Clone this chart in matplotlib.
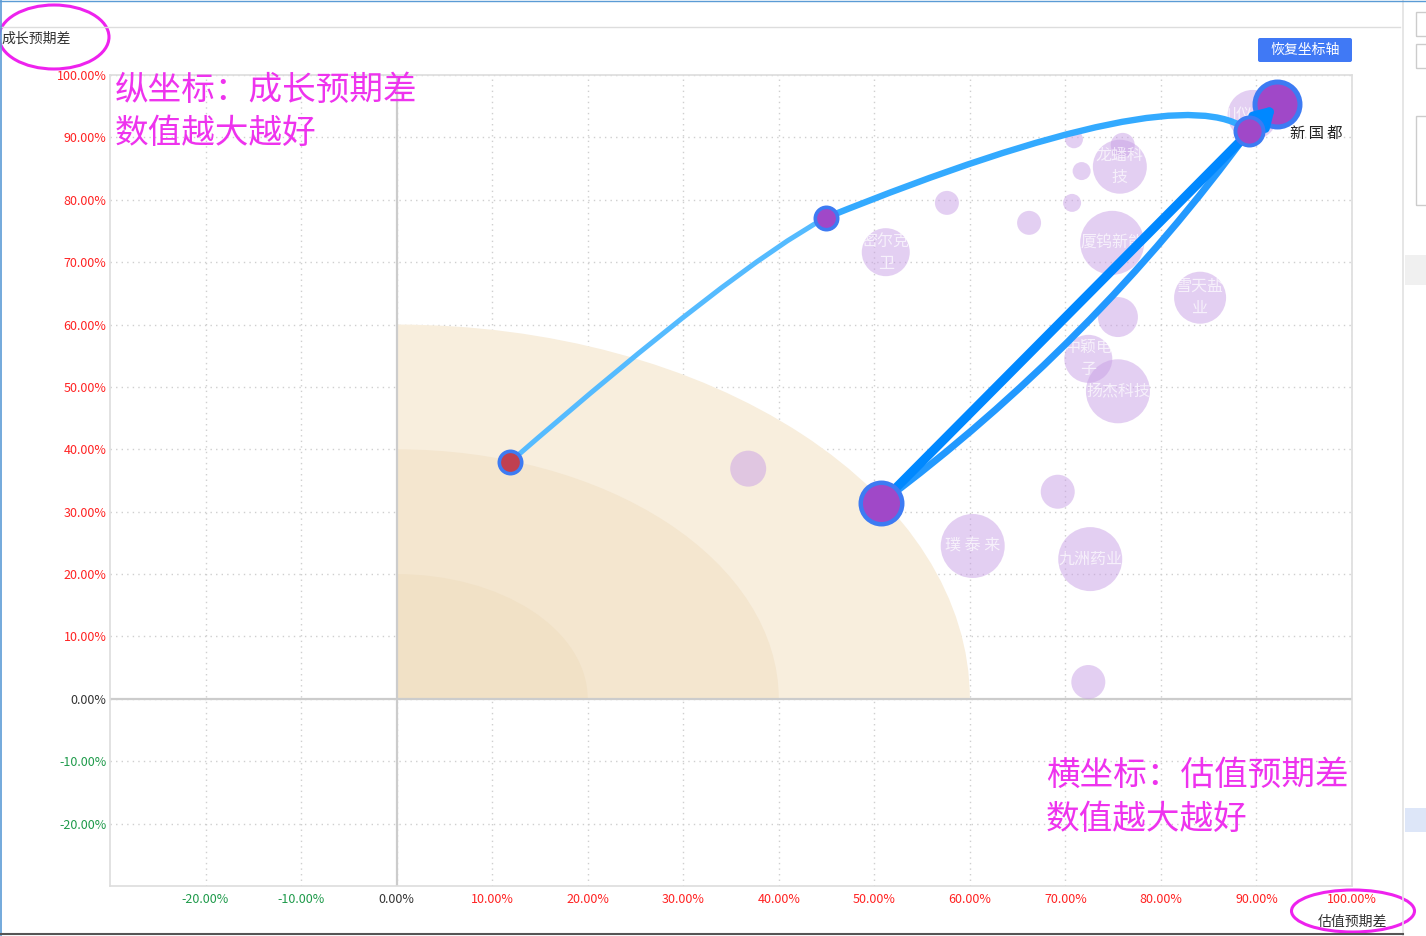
import numpy as np
import matplotlib.pyplot as plt
from matplotlib.patches import Wedge, Ellipse, FancyArrowPatch, Rectangle, FancyBboxPatch
from matplotlib.lines import Line2D

plt.rcParams['font.family'] = ['Noto Sans CJK SC', 'DejaVu Sans']

# background stocks (x: 估值预期差 %, y: 成长预期差 %, r: bubble radius px)
BX = [36.8, 60.3, 72.6, 69.2, 72.4, 51.2, 57.6, 66.2, 70.7, 71.7, 70.9,
      75.7, 76.0, 74.9, 75.5, 84.1, 72.4, 75.5, 89.6]
BY = [36.9, 24.5, 22.4, 33.2, 2.7, 71.6, 79.5, 76.3, 79.5, 84.6, 89.7,
      85.3, 88.8, 73.1, 61.2, 64.3, 54.5, 49.3, 93.6]
BR = [18, 32, 32, 17, 17, 24, 12, 12, 9, 9, 9,
      27, 12, 32, 20, 26, 24, 32, 25]
BLABEL = ["", "璞 泰 来", "九洲药业", "", "", "密尔克\n卫", "", "", "", "", "",
          "龙蟠科\n技", "", "厦钨新能", "", "雪天盐\n业", "中颖电\n子", "扬杰科技", "川仪股份"]

# 新国都 track
TX = [11.9, 44.9, 89.2, 50.7, 92.2]
TY = [38.0, 77.1, 91.0, 31.4, 95.4]
TR = [13, 13, 16, 23, 25]
TNAME = "新 国 都"

RINGS = [60, 40, 20]
RING_COLORS = ['#F8EEDD', '#F4E6CF', '#F1E1C6']

TICKS = np.arange(-20, 101, 10)

W, H = 1426, 936
fig = plt.figure(figsize=(W / 100, H / 100), dpi=100)
ax = fig.add_axes([110 / W, 1 - 886 / H, (1352 - 110) / W, (886 - 75) / H])
ax.set_xlim(-30, 100)
ax.set_ylim(-30, 100)

for r, c in zip(RINGS, RING_COLORS):
    ax.add_patch(Wedge((0, 0), r, 0, 90, facecolor=c, edgecolor='none', zorder=1))

ax.set_xticks(TICKS)
ax.set_yticks(TICKS)
ax.grid(True, linestyle=(0, (1, 3)), color='#CFCFCF', lw=1, zorder=0)
ax.set_axisbelow(True)
ax.axhline(0, color='#CCCCCC', lw=1.6, zorder=1.5)
ax.axvline(0, color='#CCCCCC', lw=1.6, zorder=1.5)
for sp in ax.spines.values():
    sp.set_color('#DDDDDD')
    sp.set_linewidth(1.2)

lab = [f"{v:.2f}%" for v in TICKS]
ax.set_xticklabels(lab, fontsize=9, fontweight='medium')
ax.set_yticklabels(lab, fontsize=9, fontweight='medium')
ax.tick_params(length=0, pad=2.5)
ax.tick_params(axis='x', pad=5)
for t, v in zip(ax.get_xticklabels(), TICKS):
    t.set_color('#1E9A4A' if v < 0 else ('#333333' if v == 0 else '#FF2222'))
for t, v in zip(ax.get_yticklabels(), TICKS):
    t.set_color('#1E9A4A' if v < 0 else ('#333333' if v == 0 else '#FF2222'))

# background bubbles
ax.scatter(BX, BY, s=(1.44 * np.array(BR)) ** 2, color='#C9A0E6', alpha=0.5,
           edgecolors='none', zorder=2)
for x, y, t in zip(BX, BY, BLABEL):
    if t:
        ax.text(x, y, t, ha='center', va='center', color='white', alpha=0.7,
                fontsize=11.5, linespacing=1.4, zorder=2.5)

# track lines
seg_styles = [
    (0, 1, "angle3,angleA=41,angleB=28", '#55BBFF', 3.6),
    (1, 2, "angle3,angleA=22,angleB=-40", '#33AAFF', 4.6),
    (2, 3, "arc3,rad=-0.075", '#2299FF', 5.0),
]
for a, b, cs, col, lw in seg_styles:
    ax.add_patch(FancyArrowPatch((TX[a], TY[a]), (TX[b], TY[b]), connectionstyle=cs,
                                 arrowstyle='-', color=col, lw=lw, shrinkA=0, shrinkB=0,
                                 zorder=4))
ax.add_patch(FancyArrowPatch((TX[3], TY[3]), (TX[4], TY[4]),
                             arrowstyle='-|>,head_length=0.75,head_width=0.45',
                             mutation_scale=14, color='#0088FF', lw=6.5,
                             shrinkA=0, shrinkB=2, zorder=4))

# track bubbles
tfill = ['#C04050'] + ['#A048C8'] * 4
tz = [5, 5, 5, 5, 3]
tew = [2.6, 2.6, 2.8, 3.2, 3.6]
for x, y, r, fc, z, ew in zip(TX, TY, TR, tfill, tz, tew):
    ax.scatter([x], [y], s=(1.44 * (r - ew * 0.7)) ** 2, color=fc, edgecolors='#3D7BF3',
               linewidths=ew, zorder=z)
ax.text(93.5, 90.7, TNAME, ha='left', va='center', fontsize=11, color='#222222', zorder=6)

# axis titles
fig.text(1 / W, 1 - 39 / H, "成长预期差", fontsize=10, color='#333333', ha='left', va='center')
fig.text(1352 / W, 1 - 922 / H, "估值预期差", fontsize=10, color='#333333', ha='center', va='center')

# magenta notes
mag = '#EE33EE'
fs = 24.2
fig.text(115 / W, 1 - 90 / H, "纵坐标：成长预期差", fontsize=fs, color=mag, va='center')
fig.text(115 / W, 1 - 133 / H, "数值越大越好", fontsize=fs, color=mag, va='center')
fig.text(1046 / W, 1 - 775 / H, "横坐标：估值预期差", fontsize=fs, color=mag, va='center')
fig.text(1046 / W, 1 - 819 / H, "数值越大越好", fontsize=fs, color=mag, va='center')
fig.add_artist(Ellipse((54 / 100, (H - 37) / 100), 1.10, 0.64, transform=fig.dpi_scale_trans,
                       fill=False, edgecolor='#EE22EE', lw=2.2))
fig.add_artist(Ellipse((1353 / 100, (H - 911) / 100), 1.23, 0.42, transform=fig.dpi_scale_trans,
                       fill=False, edgecolor='#EE22EE', lw=2.2))

# button
fig.add_artist(FancyBboxPatch((1258 / 100, (H - 62) / 100), 0.94, 0.24,
                              boxstyle='round,pad=0,rounding_size=0.02',
                              transform=fig.dpi_scale_trans, facecolor='#4079F5', edgecolor='none'))
fig.text(1305 / W, 1 - 50 / H, "恢复坐标轴", fontsize=10, color='white', ha='center', va='center')

# window frame
px = fig.dpi_scale_trans
fig.add_artist(Line2D([0, 14.0], [(H - 27) / 100] * 2, transform=px, color='#DDDDDD', lw=1))
fig.add_artist(Line2D([14.03, 14.03], [0, H / 100], transform=px, color='#E2E2E2', lw=1.2))
fig.add_artist(Line2D([0.005, 0.005], [0, H / 100], transform=px, color='#5B9BD5', lw=1.2))
fig.add_artist(Line2D([0, W / 100], [(H - 1) / 100] * 2, transform=px, color='#5B9BD5', lw=1))
fig.add_artist(Line2D([0, 14.03], [(H - 934) / 100] * 2, transform=px, color='#555555', lw=1.5))
for y0, y1 in [(12, 36), (44, 68), (116, 205)]:
    fig.add_artist(Rectangle((14.16, (H - y1) / 100), 0.2, (y1 - y0) / 100, transform=px,
                             fill=False, edgecolor='#CCCCCC', lw=1))
fig.add_artist(Rectangle((14.05, (H - 285) / 100), 0.21, 0.30, transform=px,
                         facecolor='#F0F0F0', edgecolor='none'))
fig.add_artist(Rectangle((14.05, (H - 832) / 100), 0.21, 0.24, transform=px,
                         facecolor='#DDE6F8', edgecolor='none'))

fig.savefig('out.png', dpi=100)
